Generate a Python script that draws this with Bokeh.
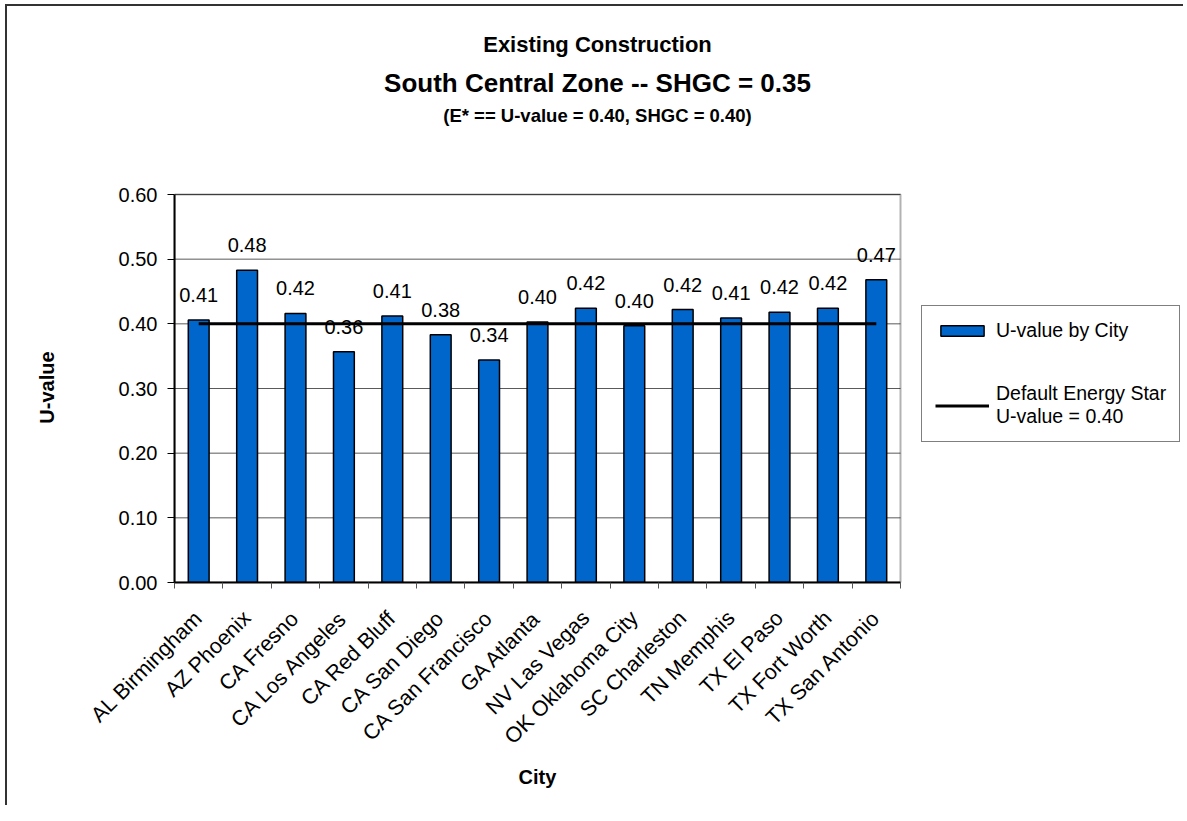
import math
from bokeh.plotting import figure
from bokeh.models import (FixedTicker, NumeralTickFormatter, Legend, LegendItem, Title,
                          ColumnDataSource, Range1d, LabelSet, BoxAnnotation)
from bokeh.core.properties import value
from bokeh.embed import file_html
from bokeh.resources import INLINE

# ---- data ----
cities = ["AL Birmingham", "AZ Phoenix", "CA Fresno", "CA Los Angeles", "CA Red Bluff",
          "CA San Diego", "CA San Francisco", "GA Atlanta", "NV Las Vegas",
          "OK Oklahoma City", "SC Charleston", "TN Memphis", "TX El Paso",
          "TX Fort Worth", "TX San Antonio"]
u_values = [0.406, 0.483, 0.416, 0.357, 0.412, 0.383, 0.344, 0.403, 0.424,
            0.397, 0.422, 0.409, 0.418, 0.424, 0.468]
energy_star_u = 0.40
y_ticks = [0.0, 0.1, 0.2, 0.3, 0.4, 0.5, 0.6]

title_1 = "Existing Construction"
title_2 = "South Central Zone -- SHGC = 0.35"
title_3 = "(E* == U-value = 0.40, SHGC = 0.40)"

FONT = "Liberation Sans"

# Arial/Liberation Sans Bold advance widths (per 1000 em), used to centre titles
BOLD_W = {' ': 278, '(': 333, ')': 333, '*': 389, ',': 278, '-': 333, '.': 278,
          '=': 584, 'C': 722, 'E': 667, 'G': 778, 'H': 722, 'S': 667, 'U': 722,
          'Z': 611, 'a': 556, 'c': 556, 'e': 556, 'g': 611, 'h': 611, 'i': 278,
          'l': 278, 'n': 611, 'o': 611, 'r': 389, 's': 556, 't': 333, 'u': 611,
          'v': 556, 'x': 556, 'y': 556}
for d in "0123456789":
    BOLD_W[d] = 556


def bold_width(s, size):
    return sum(BOLD_W.get(c, 556) for c in s) * size / 1000.0


n = len(cities)
centers = [i + 0.5 for i in range(n)]
bounds = [float(i) for i in range(n + 1)]
y_top = y_ticks[-1]

src = ColumnDataSource(dict(
    x=centers,
    u=u_values,
    es=[energy_star_u] * n,
    label=["%.2f" % v for v in u_values],
))

W, H = 1183, 805
FRAME_L, FRAME_R, FRAME_T, FRAME_B = 174, 900, 194, 582
CANVAS_R = 1182   # drawing frame extends to here so that the legend is not clipped
CANVAS_T = 192    # and slightly above the plot area so its top border is not clipped
x_end = n * (CANVAS_R - FRAME_L) / (FRAME_R - FRAME_L)
y_end = y_top * (FRAME_B - CANVAS_T) / (FRAME_B - FRAME_T)

p = figure(width=W, height=H, x_range=Range1d(0, x_end), y_range=Range1d(0, y_end),
           output_backend="svg", toolbar_location=None,
           min_border_left=FRAME_L, min_border_right=W - CANVAS_R,
           min_border_top=CANVAS_T, min_border_bottom=H - FRAME_B)
p.title.text = ""
p.border_fill_alpha = 0
# outer chart border (top and left edges), painted behind the transparent canvas
p.styles = {"background": "linear-gradient(#333333, #333333) 5px 4px / 2px 100% no-repeat, "
                          "linear-gradient(#333333, #333333) 5px 4px / 100% 2px no-repeat, "
                          "#ffffff"}

p.background_fill_color = "white"
p.outline_line_color = None

# grid lines across the category extent only
p.xgrid.visible = False
p.ygrid.visible = False
p.segment(x0=[0] * len(y_ticks), x1=[n] * len(y_ticks), y0=y_ticks, y1=y_ticks,
          line_color="#5a5a5a", line_width=1)

bars = p.vbar(x="x", top="u", width=0.43, source=src, fill_color="#0066CC",
              line_color="black", line_width=1.5)
line = p.line(x="x", y="es", source=src, line_color="black", line_width=3)

# plot-area border
p.add_layout(BoxAnnotation(left=0, right=n, bottom=0, top=y_top, fill_alpha=0,
                           line_color="black", line_width=2))

labels = LabelSet(x="x", y="u", text="label", source=src, y_offset=25,
                  text_align="center", text_baseline="middle",
                  text_font=value(FONT), text_font_size="20px", text_color="black")
p.add_layout(labels)

# y axis
ya = p.yaxis[0]
ya.bounds = (0, y_top)
ya.ticker = FixedTicker(ticks=y_ticks)
ya.formatter = NumeralTickFormatter(format="0.00")
ya.axis_line_color = "black"
ya.axis_line_width = 2
ya.major_tick_out = 7
ya.major_tick_in = 0
ya.minor_tick_line_color = None
ya.major_tick_line_color = "black"
ya.major_label_standoff = 10
ya.major_label_text_font = FONT
ya.major_label_text_font_size = "20px"
ya.major_label_text_color = "black"
ya.axis_label = "U-value"
ya.axis_label_text_font = FONT
ya.axis_label_text_font_size = "20px"
ya.axis_label_text_font_style = "bold"
ya.axis_label_text_color = "black"
ya.axis_label_standoff = 58

# x axis
xa = p.xaxis[0]
xa.bounds = (0, n)
xa.ticker = FixedTicker(ticks=centers, minor_ticks=bounds)
xa.major_label_overrides = {c: name for c, name in zip(centers, cities)}
xa.major_tick_line_color = None
xa.major_tick_out = 0
xa.major_tick_in = 0
xa.minor_tick_line_color = "#555555"
xa.minor_tick_out = 6
xa.minor_tick_in = 0
xa.axis_line_color = "black"
xa.axis_line_width = 2
xa.major_label_orientation = math.pi / 4
xa.major_label_standoff = 26
xa.major_label_text_font = FONT
xa.major_label_text_font_size = "21.5px"
xa.major_label_text_color = "black"
xa.axis_label = ""

# x-axis title, centred under the category area
p.add_layout(Title(text="City", align="left",
                   offset=(FRAME_R - FRAME_L) / 2.0 - bold_width("City", 20) / 2.0,
                   text_font=FONT, text_font_size="20px", text_font_style="bold",
                   text_color="black", standoff=6), "below")

# titles (nearest to frame first); a blank spacer keeps the gap above the frame
TITLE_CX = 597
for txt, size, so in [(" ", 10, 52), (title_3, 18.5, 4), (title_2, 26, 5), (title_1, 22, 13)]:
    off = TITLE_CX - FRAME_L - bold_width(txt, size) / 2.0
    p.add_layout(Title(text=txt, align="left", offset=off, text_font=FONT,
                       text_font_size="%spx" % size, text_font_style="bold",
                       text_color="black", standoff=so), "above")

# legend
legend = Legend(items=[
    LegendItem(label="U-value by City", renderers=[bars]),
    LegendItem(label="Default Energy Star\nU-value = 0.40", renderers=[line]),
], location=(747, 140), glyph_width=54, glyph_height=13, label_standoff=7,
    label_text_font=FONT, label_text_font_size="19.5px", label_text_color="black",
    label_text_line_height=1.4,
    padding=13, spacing=40, margin=0, border_line_color="black", border_line_width=1,
    background_fill_color="white", background_fill_alpha=1)
p.add_layout(legend, "center")

open("out.html", "w").write(file_html(p, INLINE))
